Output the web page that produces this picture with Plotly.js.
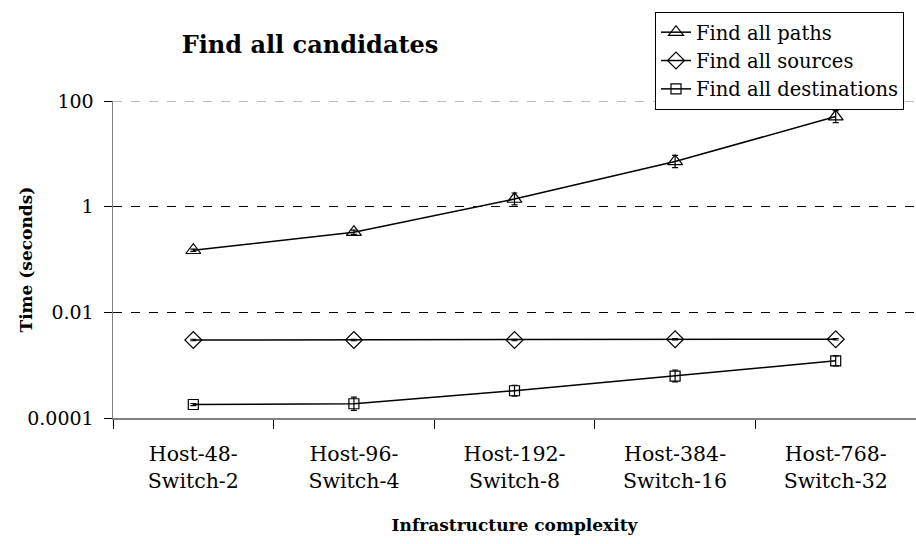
<!DOCTYPE html>
<html><head><meta charset="utf-8">
<script src="https://cdn.plot.ly/plotly-3.0.1.min.js"></script>
<style>html,body{margin:0;padding:0;background:#fff;}#chart{width:916px;height:544px;}</style>
</head><body><div id="chart"></div>
<script>
const categories = ["Host-48-<br>Switch-2","Host-96-<br>Switch-4","Host-192-<br>Switch-8","Host-384-<br>Switch-16","Host-768-<br>Switch-32"];
const pathsTime = [0.15, 0.33, 1.4, 7.2, 51];
const pathsErrPlus = [0.007, 0.03, 0.42, 2.2, 15];
const pathsErrMinus = [0.007, 0.03, 0.32, 1.7, 12];
const sourcesTime = [0.003, 0.003, 0.003, 0.0031, 0.0031];
const sourcesErr = [0.0001, 0.0001, 0.0001, 0.0001, 0.0001];
const destTime = [0.00018, 0.000186, 0.000328, 0.00062, 0.00121];
const destErrPlus = [0.000008, 0.000063, 0.000089, 0.00019, 0.00029];
const destErrMinus = [0.000008, 0.000047, 0.000069, 0.00014, 0.00024];
const yTickVals = [0.0001, 0.01, 1, 100];
const yTickText = ["0.0001", "0.01", "1", "100"];

const serif = "DejaVu Serif";
function mk(name, y, plus, minus, symbol, size){
  return {
    type: "scatter", mode: "lines+markers", name: name,
    x: categories, y: y,
    line: {color: "#000", width: 1.5},
    marker: {symbol: symbol, size: size, color: "#000", line: {color: "#000", width: 1.2}},
    error_y: {type: "data", symmetric: false, array: plus, arrayminus: minus, color: "#000", thickness: 1.2, width: 3}
  };
}
const data = [
  mk("Find all paths", pathsTime, pathsErrPlus, pathsErrMinus, "triangle-up-open", 13),
  mk("Find all sources", sourcesTime, sourcesErr, sourcesErr, "diamond-open", 13),
  mk("Find all destinations", destTime, destErrPlus, destErrMinus, "square-open", 10)
];
const layout = {
  width: 916, height: 544,
  margin: {l: 113, r: 0, t: 101, b: 126},
  paper_bgcolor: "#fff", plot_bgcolor: "#fff",
  font: {family: serif, color: "#000", size: 20},
  title: {text: "<b>Find all candidates</b>", font: {family: serif, size: 24, color: "#000"},
          x: 310/916, xanchor: "center", y: 1 - 45/544, yanchor: "middle"},
  xaxis: {
    type: "category", range: [-0.5, 4.5],
    showline: true, linecolor: "#808080", linewidth: 1.5,
    ticks: "outside", tickson: "boundaries", ticklen: 9, tickcolor: "#000", tickwidth: 1,
    ticklabelstandoff: 17,
    showgrid: false, zeroline: false,
    tickfont: {family: serif, size: 20.5, color: "#000"},
    title: {text: "<b>Infrastructure complexity</b>", font: {family: serif, size: 17, color: "#000"}, standoff: 27}
  },
  yaxis: {
    type: "log", range: [-4, 2.002],
    tickvals: yTickVals, ticktext: yTickText,
    showline: true, linecolor: "#808080", linewidth: 1.5,
    ticks: "outside", ticklen: 8, tickcolor: "#000", tickwidth: 1,
    ticklabelstandoff: 6,
    showgrid: true, gridcolor: "#000", griddash: "dash", gridwidth: 1,
    zeroline: false,
    tickfont: {family: serif, size: 19, color: "#000"}
  },
  shapes: [{
    type: "line", xref: "paper", yref: "y", x0: 0, x1: 1, y0: 100, y1: 100,
    line: {color: "#909090", width: 1, dash: "dash"}, layer: "below"
  }],
  annotations: [{
    text: "<b>Time (seconds)</b>", textangle: -90,
    xref: "paper", yref: "paper", x: (25 - 113) / 803, y: 0.5,
    xanchor: "center", yanchor: "middle", showarrow: false,
    font: {family: serif, size: 17, color: "#000"}
  }],
  showlegend: true,
  legend: {
    x: (655-113)/803, xanchor: "left", y: (418-12)/317, yanchor: "top",
    bgcolor: "#fff", bordercolor: "#000", borderwidth: 1,
    font: {family: serif, size: 19.5, color: "#000"},
    tracegroupgap: 0, itemwidth: 30
  }
};
Plotly.newPlot("chart", data, layout, {displayModeBar: false, staticPlot: true});
</script>
</body></html>
